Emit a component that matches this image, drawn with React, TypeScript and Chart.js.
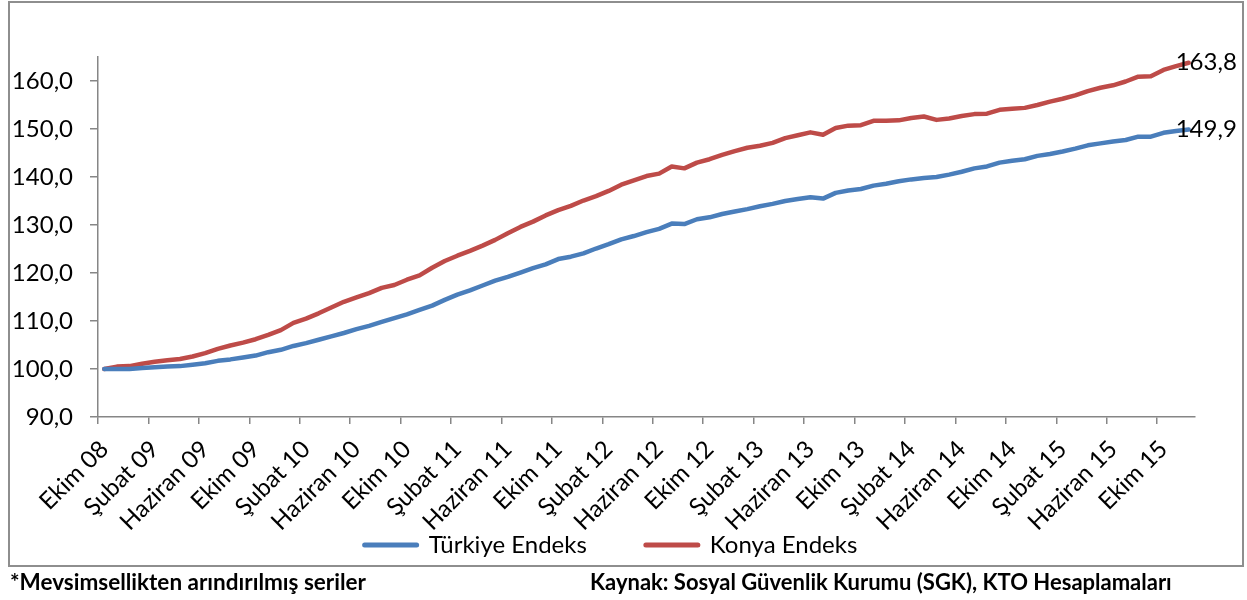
import React, { useEffect, useRef } from 'react';
import { Chart, registerables } from 'chart.js';

Chart.register(...registerables);

// ---- Data ----
const MONTH_NAMES = ['Ocak', 'Şubat', 'Mart', 'Nisan', 'Mayıs', 'Haziran', 'Temmuz', 'Ağustos', 'Eylül', 'Ekim', 'Kasım', 'Aralık'];
const START_MONTH_INDEX = 9; // Ekim
const START_YEAR = 8; // 2008
const LABEL_EVERY = 4;

const SERIES_NAMES = ['Türkiye Endeks', 'Konya Endeks'];

const TURKIYE = [
  100.0, 100.0, 100.0, 100.2, 100.35, 100.5, 100.6, 100.9, 101.2, 101.7,
  102.0, 102.4, 102.8, 103.5, 104.0, 104.8, 105.4, 106.1, 106.8, 107.5,
  108.3, 109.0, 109.8, 110.6, 111.4, 112.3, 113.2, 114.4, 115.5, 116.4,
  117.4, 118.4, 119.2, 120.1, 121.0, 121.8, 122.9, 123.4, 124.1, 125.1,
  126.0, 127.0, 127.7, 128.5, 129.2, 130.3, 130.2, 131.2, 131.6, 132.3,
  132.8, 133.3, 133.9, 134.4, 135.0, 135.4, 135.8, 135.5, 136.7, 137.2,
  137.5, 138.2, 138.6, 139.1, 139.5, 139.8, 140.0, 140.5, 141.1, 141.8,
  142.2, 143.0, 143.4, 143.7, 144.4, 144.8, 145.3, 145.9, 146.6, 147.0,
  147.4, 147.7, 148.4, 148.4, 149.2, 149.6, 149.9,
];

const KONYA = [
  100.0, 100.5, 100.6, 101.1, 101.5, 101.8, 102.1, 102.6, 103.3, 104.2,
  104.9, 105.5, 106.2, 107.1, 108.1, 109.6, 110.5, 111.6, 112.8, 114.0,
  114.9, 115.8, 116.9, 117.5, 118.6, 119.5, 121.1, 122.5, 123.6, 124.6,
  125.7, 126.9, 128.3, 129.6, 130.7, 132.0, 133.1, 134.0, 135.1, 136.0,
  137.1, 138.4, 139.3, 140.2, 140.7, 142.2, 141.8, 143.0, 143.7, 144.6,
  145.4, 146.1, 146.5, 147.1, 148.1, 148.7, 149.3, 148.8, 150.2, 150.7,
  150.8, 151.7, 151.7, 151.8, 152.3, 152.6, 151.9, 152.2, 152.7, 153.1,
  153.2, 154.0, 154.2, 154.4, 155.0, 155.7, 156.3, 157.0, 157.9, 158.6,
  159.1, 159.9, 160.9, 161.0, 162.3, 163.1, 163.8,
];

const Y_MIN = 90;
const Y_MAX = 165;
const Y_STEP = 10;

const CATEGORIES = TURKIYE.map((_, i) => {
  const k = START_MONTH_INDEX + i;
  const m = k % 12;
  const y = START_YEAR + Math.floor(k / 12);
  return `${MONTH_NAMES[m]} ${String(y).padStart(2, '0')}`;
});

const FOOTNOTE_LEFT = '*Mevsimsellikten arındırılmış seriler';
const FOOTNOTE_RIGHT = 'Kaynak: Sosyal Güvenlik Kurumu (SGK), KTO Hesaplamaları';

// ---- Styles ----
const COLORS = ['#4A7EBB', '#BE4B48'];
const FONT = 'Lato, "Noto Sans", sans-serif';
const FONT_SIZE = 24;
const AXIS_COLOR = '#868686';

const fmt = (v: number) => v.toFixed(1).replace('.', ',');

const overlayPlugin = {
  id: 'overlay',
  afterDatasetsDraw(chart: any) {
    const ctx = chart.ctx;
    ctx.save();
    ctx.font = `${FONT_SIZE}px ${FONT}`;
    ctx.fillStyle = '#000';
    ctx.textAlign = 'left';
    ctx.textBaseline = 'middle';
    chart.data.datasets.forEach((ds: any, di: number) => {
      const meta = chart.getDatasetMeta(di);
      const pt = meta.data[meta.data.length - 1];
      const v = ds.data[ds.data.length - 1];
      ctx.fillText(fmt(v), pt.x - 13, pt.y);
    });
    ctx.restore();
  },
  afterDraw(chart: any) {
    const ctx = chart.ctx;
    ctx.save();
    ctx.font = `${FONT_SIZE}px ${FONT}`;
    ctx.textBaseline = 'middle';
    ctx.textAlign = 'left';
    const lineW = 56;
    const gapText = 10;
    const gapItem = 57;
    const widths = chart.data.datasets.map((ds: any) => lineW + gapText + ctx.measureText(ds.label).width);
    const total = widths.reduce((a: number, b: number) => a + b, 0) + gapItem * (widths.length - 1);
    let x = 610 - total / 2;
    const y = 545;
    chart.data.datasets.forEach((ds: any, i: number) => {
      ctx.strokeStyle = ds.borderColor;
      ctx.lineWidth = 5;
      ctx.lineCap = 'round';
      ctx.beginPath();
      ctx.moveTo(x + 2, y);
      ctx.lineTo(x + lineW - 2, y);
      ctx.stroke();
      ctx.fillStyle = '#000';
      ctx.fillText(ds.label, x + lineW + gapText, y);
      x += widths[i] + gapItem;
    });
    ctx.restore();
  },
};

export default function App() {
  const canvasRef = useRef<HTMLCanvasElement | null>(null);

  useEffect(() => {
    if (!canvasRef.current) return;
    const chart = new Chart(canvasRef.current, {
      type: 'line',
      data: {
        labels: CATEGORIES,
        datasets: [
          {
            label: SERIES_NAMES[0],
            data: TURKIYE,
            borderColor: COLORS[0],
            backgroundColor: COLORS[0],
            borderWidth: 4.5,
            pointRadius: 0,
            tension: 0,
            borderCapStyle: 'round',
            borderJoinStyle: 'round',
          },
          {
            label: SERIES_NAMES[1],
            data: KONYA,
            borderColor: COLORS[1],
            backgroundColor: COLORS[1],
            borderWidth: 4.5,
            pointRadius: 0,
            tension: 0,
            borderCapStyle: 'round',
            borderJoinStyle: 'round',
          },
        ],
      },
      options: {
        responsive: false,
        animation: false,
        devicePixelRatio: 1,
        layout: { padding: { top: 57, right: 52, bottom: 0, left: 0 } },
        plugins: {
          legend: { display: false },
          tooltip: { enabled: false },
        },
        scales: {
          x: {
            type: 'category',
            offset: true,
            afterFit: (s: any) => { s.height = 183; },
            grid: {
              offset: true,
              drawOnChartArea: false,
              drawTicks: true,
              tickLength: 7,
              lineWidth: 1.5,
              color: (c: any) => (c.index !== undefined && c.index % LABEL_EVERY === 0 ? AXIS_COLOR : 'rgba(0,0,0,0)'),
            },
            border: { display: true, color: AXIS_COLOR, width: 1.5 },
            ticks: {
              autoSkip: false,
              minRotation: 45,
              maxRotation: 45,
              padding: 11,
              color: '#000',
              font: { family: FONT, size: FONT_SIZE },
              callback: (_v: any, i: number) => (i % LABEL_EVERY === 0 ? CATEGORIES[i] : ''),
            },
          },
          y: {
            min: Y_MIN,
            max: Y_MAX,
            afterFit: (s: any) => { s.width = 98; },
            grid: {
              drawOnChartArea: false,
              drawTicks: true,
              tickLength: 8,
              lineWidth: 1.5,
              color: AXIS_COLOR,
            },
            border: { display: true, color: AXIS_COLOR, width: 1.5 },
            ticks: {
              stepSize: Y_STEP,
              includeBounds: false,
              padding: 17,
              color: '#000',
              font: { family: FONT, size: FONT_SIZE },
              callback: (v: any) => fmt(Number(v)),
            },
          },
        },
      },
      plugins: [overlayPlugin],
    } as any);
    return () => chart.destroy();
  }, []);

  const noteStyle: React.CSSProperties = {
    position: 'absolute',
    top: 569,
    fontFamily: FONT,
    fontWeight: 700,
    color: '#000',
    whiteSpace: 'nowrap',
    lineHeight: '26px',
  };

  return (
    <div style={{ position: 'absolute', left: 0, top: 0, width: 1247, height: 600, background: '#fff' }}>
      <div
        style={{
          position: 'absolute',
          left: 8,
          top: 1,
          width: 1232,
          height: 562,
          border: '2px solid #8e8e8e',
        }}
      />
      <canvas
        ref={canvasRef}
        width={1247}
        height={600}
        style={{ position: 'absolute', left: 0, top: 0, width: 1247, height: 600 }}
      />
      <div style={{ ...noteStyle, left: 10, fontSize: 22.5 }}>{FOOTNOTE_LEFT}</div>
      <div style={{ ...noteStyle, left: 590, fontSize: 22 }}>{FOOTNOTE_RIGHT}</div>
    </div>
  );
}
